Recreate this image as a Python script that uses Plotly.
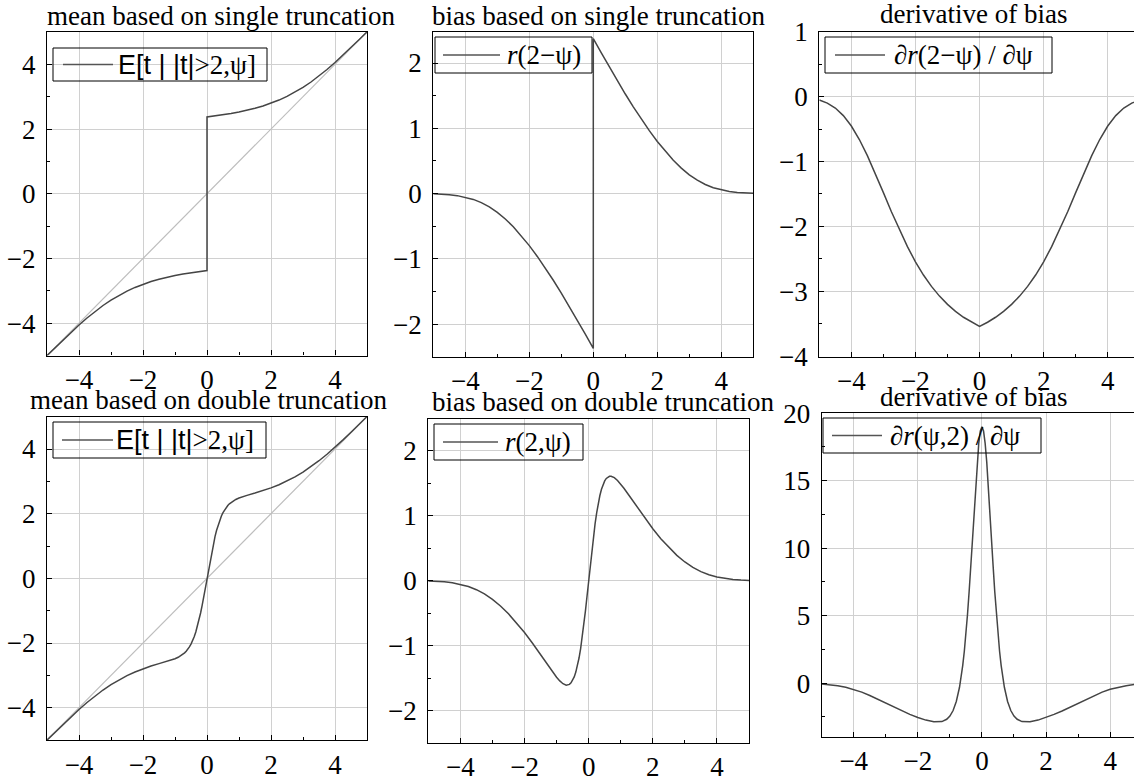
import plotly.graph_objects as go

W, H = 1134, 778

# ---------------- data ----------------
psi_single = [-5.0, -4.75, -4.5, -4.25, -4.0, -3.75, -3.5, -3.25, -3.0, -2.75, -2.5, -2.25, -2.0, -1.75, -1.5,
              -1.25, -1.0, -0.75, -0.5, -0.25, 0.0,
              0.0, 0.25, 0.5, 0.75, 1.0, 1.25, 1.5, 1.75, 2.0, 2.25, 2.5, 2.75, 3.0, 3.25, 3.5, 3.75, 4.0,
              4.25, 4.5, 4.75, 5.0]
mean_single = [-5.0044, -4.7591, -4.5176, -4.2821, -4.0552, -3.8399, -3.6388, -3.4542, -3.2876, -3.1394, -3.0092,
               -2.8958, -2.7979, -2.7136, -2.6411, -2.5788, -2.5251, -2.4788, -2.4387, -2.4038, -2.3732,
               2.3732, 2.4038, 2.4387, 2.4788, 2.5251, 2.5788, 2.6411, 2.7136, 2.7979, 2.8958, 3.0092, 3.1394,
               3.2876, 3.4542, 3.6388, 3.8399, 4.0552, 4.2821, 4.5176, 4.7591, 5.0044]
bias_single = [-0.0044, -0.0091, -0.0176, -0.0321, -0.0552, -0.0899, -0.1388, -0.2042, -0.2876, -0.3894, -0.5092,
               -0.6458, -0.7979, -0.9636, -1.1411, -1.3288, -1.5251, -1.7288, -1.9387, -2.1538, -2.3732,
               2.3732, 2.1538, 1.9387, 1.7288, 1.5251, 1.3288, 1.1411, 0.9636, 0.7979, 0.6458, 0.5092, 0.3894,
               0.2876, 0.2042, 0.1388, 0.0899, 0.0552, 0.0321, 0.0176, 0.0091, 0.0044]
psi_grid = [-5.0, -4.75, -4.5, -4.25, -4.0, -3.75, -3.5, -3.25, -3.0, -2.75, -2.5, -2.25, -2.0, -1.75, -1.5,
            -1.25, -1.0, -0.75, -0.5, -0.25, 0.0, 0.25, 0.5, 0.75, 1.0, 1.25, 1.5, 1.75, 2.0, 2.25, 2.5,
            2.75, 3.0, 3.25, 3.5, 3.75, 4.0, 4.25, 4.5, 4.75, 5.0]
dbias_single = [-0.053, -0.100, -0.177, -0.293, -0.454, -0.662, -0.910, -1.188, -1.481, -1.775, -2.056,
                -2.314, -2.547, -2.751, -2.926, -3.076, -3.203, -3.311, -3.402, -3.479, -3.543,
                -3.479, -3.402, -3.311, -3.203, -3.076, -2.926, -2.751, -2.547, -2.314, -2.056,
                -1.775, -1.481, -1.188, -0.910, -0.662, -0.454, -0.293, -0.177, -0.100, -0.053]

psi_double = [-5.0, -4.75, -4.5, -4.25, -4.0, -3.75, -3.5, -3.25, -3.0, -2.75, -2.5, -2.25, -2.0, -1.75, -1.5,
              -1.25, -1.1, -1.0, -0.9, -0.8, -0.7, -0.65, -0.6, -0.55, -0.5, -0.45, -0.4, -0.35, -0.3, -0.25,
              -0.2, -0.15, -0.1, -0.05, 0.0, 0.05, 0.1, 0.15, 0.2, 0.25, 0.3, 0.35, 0.4, 0.45, 0.5, 0.55,
              0.6, 0.65, 0.7, 0.8, 0.9, 1.0, 1.1, 1.25, 1.5, 1.75, 2.0, 2.25, 2.5, 2.75, 3.0, 3.25, 3.5,
              3.75, 4.0, 4.25, 4.5, 4.75, 5.0]
mean_double = [-5.0044, -4.7591, -4.5176, -4.2821, -4.0552, -3.8399, -3.6388, -3.4542, -3.2876, -3.1394, -3.0092,
               -2.8958, -2.7976, -2.7125, -2.6374, -2.5665, -2.5204, -2.4846, -2.4407, -2.3836, -2.3052, -2.2545,
               -2.1939, -2.1210, -2.0338, -1.9294, -1.8052, -1.6589, -1.4887, -1.2931, -1.0724, -0.8285, -0.5644,
               -0.2859, 0.0,
               0.2859, 0.5644, 0.8285, 1.0724, 1.2931, 1.4887, 1.6589, 1.8052, 1.9294, 2.0338, 2.1210, 2.1939,
               2.2545, 2.3052, 2.3836, 2.4407, 2.4846, 2.5204, 2.5665, 2.6374, 2.7125, 2.7976, 2.8958, 3.0092,
               3.1394, 3.2876, 3.4542, 3.6388, 3.8399, 4.0552, 4.2821, 4.5176, 4.7591, 5.0044]
bias_double = [-0.0044, -0.0091, -0.0176, -0.0321, -0.0552, -0.0899, -0.1388, -0.2042, -0.2876, -0.3894, -0.5092,
               -0.6458, -0.7976, -0.9625, -1.1374, -1.3165, -1.4204, -1.4846, -1.5407, -1.5836, -1.6052, -1.6045,
               -1.5939, -1.5710, -1.5338, -1.4794, -1.4052, -1.3089, -1.1887, -1.0431, -0.8724, -0.6785, -0.4644,
               -0.2359, 0.0,
               0.2359, 0.4644, 0.6785, 0.8724, 1.0431, 1.1887, 1.3089, 1.4052, 1.4794, 1.5338, 1.5710, 1.5939,
               1.6045, 1.6052, 1.5836, 1.5407, 1.4846, 1.4204, 1.3165, 1.1374, 0.9625, 0.7976, 0.6458, 0.5092,
               0.3894, 0.2876, 0.2042, 0.1388, 0.0899, 0.0552, 0.0321, 0.0176, 0.0091, 0.0044]
dbias_double = [-0.05, -0.10, -0.18, -0.29, -0.45, -0.66, -0.91, -1.19, -1.48, -1.78, -2.06, -2.31, -2.54, -2.73,
                -2.86, -2.84, -2.67, -2.43, -2.02, -1.35, -0.30, 0.43, 1.31, 2.37, 3.63, 5.11, 6.78, 8.64, 10.63,
                12.66, 14.63, 16.38, 17.77, 18.68, 18.99,
                18.68, 17.77, 16.38, 14.63, 12.66, 10.63, 8.64, 6.78, 5.11, 3.63, 2.37, 1.31, 0.43, -0.30,
                -1.35, -2.02, -2.43, -2.67, -2.84, -2.86, -2.73, -2.54, -2.31, -2.06, -1.78, -1.48, -1.19,
                -0.91, -0.66, -0.45, -0.29, -0.18, -0.10, -0.05]

identity_x = [-5, 5]
identity_y = [-5, 5]

titles = ["mean based on single truncation", "bias based on single truncation", "derivative of bias",
          "mean based on double truncation", "bias based on double truncation", "derivative of bias"]

SANS = "Liberation Sans, Arial, sans-serif"
SERIF = "Liberation Serif, Times New Roman, serif"
legend_labels = [
    f'<span style="font-family:{SANS}">E[t | |t|</span>&gt;2,ψ]',
    '<i>r</i>(2−ψ)',
    '∂<i>r</i>(2−ψ) / ∂ψ',
    f'<span style="font-family:{SANS}">E[t | |t|</span>&gt;2,ψ]',
    '<i>r</i>(2,ψ)',
    '∂<i>r</i>(ψ,2) / ∂ψ',
]

# ---------------- layout (pixel geometry) ----------------
# x0,x1,y0,y1: plot frame in px; legend box, sample line, text start
panels = [
    dict(x0=47.0, x1=367.0, y0=32.0, y1=355.5, xr=[-5, 5], yr=[-5, 5], ydt=2, ymn=1, ymirror=True,
         tx=45, ty=16, box=(53, 267, 48, 81), line=(63, 113), ltx=116),
    dict(x0=433.3, x1=753.3, y0=31.7, y1=356.7, xr=[-5, 5], yr=[-2.5, 2.48], ydt=1, ymn=0.5, ymirror=True,
         tx=430, ty=16, box=(435, 592, 37, 73), line=(443, 500), ltx=505),
    dict(x0=819.3, x1=1134.0, y0=31.7, y1=356.7, xr=[-5, (1134.0 - 979.3) / 32.1], yr=[-4.01, 1.0], ydt=1,
         ymn=0.5, ymirror=False, tx=878, ty=14, box=(825, 1052, 37, 73), line=(835, 885), ltx=892),
    dict(x0=47.0, x1=367.0, y0=416.7, y1=740.0, xr=[-5, 5], yr=[-5, 5], ydt=2, ymn=1, ymirror=True,
         tx=28, ty=400, box=(53, 266, 422, 458), line=(62, 113), ltx=114),
    dict(x0=428.3, x1=749.0, y0=419.3, y1=742.7, xr=[-5, 5], yr=[-2.49, 2.48], ydt=1, ymn=0.5, ymirror=True,
         tx=430, ty=402, box=(434, 583, 424, 460), line=(443, 498), ltx=503),
    dict(x0=821.7, x1=1134.0, y0=412.7, y1=736.7, xr=[-5, (1134.0 - 981.7) / 32.1], yr=[-3.96, 20.04], ydt=5,
         ymn=2.5, ymirror=False, tx=878, ty=397, box=(823, 1041, 418, 453), line=(832, 882), ltx=888),
]

series = [
    (psi_single, mean_single),
    (psi_single, bias_single),
    (psi_grid, dbias_single),
    (psi_double, mean_double),
    (psi_double, bias_double),
    (psi_double, dbias_double),
]

CURVE = "#454545"
fig = go.Figure()
layout = dict(
    width=W, height=H, margin=dict(l=0, r=0, t=0, b=0, autoexpand=False),
    paper_bgcolor="white", plot_bgcolor="white", showlegend=False,
    font=dict(family=SERIF, size=26, color="black"),
)
annotations = []
shapes = []

for i, p in enumerate(panels):
    n = i + 1
    xa = "xaxis" if n == 1 else f"xaxis{n}"
    ya = "yaxis" if n == 1 else f"yaxis{n}"
    xref = "x" if n == 1 else f"x{n}"
    yref = "y" if n == 1 else f"y{n}"
    common = dict(showline=True, linecolor="black", linewidth=1.2, ticks="inside", ticklen=5, tickwidth=1,
                  tickcolor="black", showgrid=True, gridcolor="#d0d0d0", gridwidth=1, zeroline=False,
                  tickfont=dict(family=SERIF, size=27, color="black"), fixedrange=True, automargin=False)
    layout[xa] = dict(common, domain=[p["x0"] / W, p["x1"] / W], range=p["xr"], anchor=yref,
                      tick0=0, dtick=2, mirror=True, ticklabelstandoff=0,
                      minor=dict(ticks="inside", ticklen=3, tick0=0, dtick=1, tickcolor="black", showgrid=False))
    layout[ya] = dict(common, domain=[1 - p["y1"] / H, 1 - p["y0"] / H], range=p["yr"], anchor=xref,
                      tick0=0, dtick=p["ydt"], mirror=p["ymirror"], ticklabelstandoff=5,
                      minor=dict(ticks="inside", ticklen=3, tick0=0, dtick=p["ymn"], tickcolor="black",
                                 showgrid=False))
    if n in (1, 4):
        fig.add_trace(go.Scatter(x=identity_x, y=identity_y, mode="lines", xaxis=xref, yaxis=yref,
                                 line=dict(color="#bdbdbd", width=1.2), showlegend=False, hoverinfo="skip"))
    xs, ys = series[i]
    fig.add_trace(go.Scatter(x=xs, y=ys, mode="lines", xaxis=xref, yaxis=yref, name=titles[i],
                             line=dict(color=CURVE, width=1.5), showlegend=False))
    annotations.append(dict(text=titles[i], xref="paper", yref="paper", x=p["tx"] / W, y=1 - p["ty"] / H,
                            xanchor="left", yanchor="middle", showarrow=False,
                            font=dict(family=SERIF, size=27, color="black")))

    # legend frame (outline only, as in the reference) and sample line
    bx0, bx1, by0, by1 = p["box"]
    shapes.append(dict(type="rect", xref="paper", yref="paper",
                       x0=bx0 / W, x1=bx1 / W, y0=1 - by1 / H, y1=1 - by0 / H,
                       line=dict(color="black", width=1), layer="above"))
    cy = (by0 + by1) / 2
    sx0, sx1 = p["line"]
    shapes.append(dict(type="line", xref="paper", yref="paper",
                       x0=sx0 / W, x1=sx1 / W, y0=1 - cy / H, y1=1 - cy / H,
                       line=dict(color="#555555", width=1.3), layer="above"))
    annotations.append(dict(text=legend_labels[i], xref="paper", yref="paper", x=p["ltx"] / W,
                            y=1 - cy / H, xanchor="left", yanchor="middle", showarrow=False,
                            font=dict(family=SERIF, size=27, color="black")))

layout["annotations"] = annotations
layout["shapes"] = shapes
fig.update_layout(**layout)
fig.write_html("out.html")
